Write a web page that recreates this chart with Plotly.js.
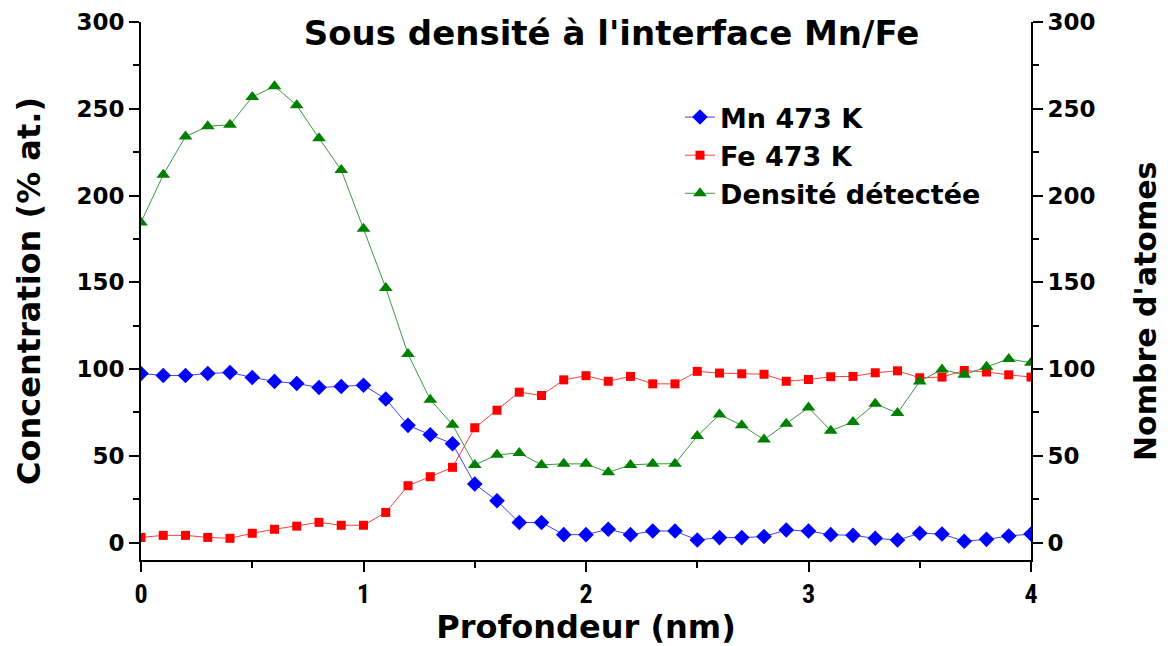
<!DOCTYPE html>
<html>
<head>
<meta charset="utf-8">
<script src="https://cdn.plot.ly/plotly-3.0.1.min.js"></script>
<style>html,body{margin:0;padding:0;background:#fff;}#chart{width:1172px;height:646px;}</style>
</head>
<body>
<div id="chart"></div>
<script>
var depth = [0,0.1,0.2,0.3,0.4,0.5,0.6,0.7,0.8,0.9,1.0,1.1,1.2,1.3,1.4,1.5,1.6,1.7,1.8,1.9,2.0,2.1,2.2,2.3,2.4,2.5,2.6,2.7,2.8,2.9,3.0,3.1,3.2,3.3,3.4,3.5,3.6,3.7,3.8,3.9,4.0];
var mn473 = [97.5,96.3,96.3,97.5,98,95.2,92.9,91.7,89.4,90,90.7,82.8,67.6,62.2,57,33.8,24.1,11.6,11.6,4.6,4.6,7.7,4.6,6.7,6.7,1.5,2.9,2.9,3.5,7.3,6.7,4.6,4.2,2.5,1.5,5.4,5.0,0.8,1.9,3.8,5.0];
var fe473 = [3,4.2,4.2,3,2.5,5.4,7.7,9.5,11.7,10,10,17.4,32.8,38,43.4,66.2,76.3,86.7,84.8,93.8,96.2,93,95.8,91.5,91.5,98.7,97.7,97.3,97,93,94,95.6,95.8,97.9,99,95,95.4,99.2,98.3,96.7,95.4];
var densite = [184.5,212,234,239.9,240.8,256.8,263,252,233,214.7,180.8,146.8,108.7,82.4,68,44.8,50.6,51.7,44.8,45.4,45.4,40.5,44.8,45.4,45.5,61.4,73.8,67.6,59.4,68.5,77.8,64.5,69.5,80,74.7,92.9,99.8,96.7,101.4,105.8,103.7];
var seriesNames = ["Mn 473 K", "Fe 473 K", "Densité détectée"];
var chartTitle = "Sous densité à l'interface Mn/Fe";
var xTitle = "Profondeur (nm)";
var yTitle = "Concentration (% at.)";
var y2Title = "Nombre d'atomes";

var boldWide = {family: "DejaVu Sans, Verdana, sans-serif", weight: "bold", color: "#000"};
function f(size, base) { var o = Object.assign({}, base || boldWide); o.size = size; return o; }
var narrow = {family: "Liberation Sans Narrow, Arial Narrow, Roboto Condensed, sans-serif", weight: "bold", color: "#000"};

var traces = [
  {x: depth, y: mn473, name: seriesNames[0], type: "scatter", mode: "lines+markers",
   line: {color: "#4040ff", width: 1}, marker: {symbol: "diamond", size: 12, color: "#0000ff"}},
  {x: depth, y: fe473, name: seriesNames[1], type: "scatter", mode: "lines+markers",
   line: {color: "#ff4040", width: 1}, marker: {symbol: "square", size: 9, color: "#ff0000"}},
  {x: depth, y: densite, name: seriesNames[2], type: "scatter", mode: "lines+markers", yaxis: "y2",
   line: {color: "#3a9a3a", width: 1}, marker: {symbol: "triangle-up", size: 12, color: "#008000"}}
];

var axisCommon = {
  showline: true, linecolor: "#000", linewidth: 2, mirror: false,
  ticks: "outside", ticklen: 10, tickwidth: 2, tickcolor: "#000",
  showgrid: false, zeroline: false
};

var layout = {
  width: 1172, height: 646,
  paper_bgcolor: "#fff", plot_bgcolor: "#fff",
  margin: {l: 141, r: 141, t: 22, b: 86, pad: 0},
  showlegend: true,
  title: {text: chartTitle, font: f(34), x: 0.5287, xref: "paper", xanchor: "center",
          y: 1 - 33/646, yref: "container", yanchor: "middle"},
  xaxis: Object.assign({}, axisCommon, {
    range: [0, 4], dtick: 1, tick0: 0,
    minor: {dtick: 0.5, ticks: "outside", ticklen: 6, tickwidth: 2, tickcolor: "#000"},
    tickfont: f(26, narrow),
    title: {text: xTitle, font: f(32), standoff: 13}
  }),
  yaxis: Object.assign({}, axisCommon, {
    range: [-10, 300], dtick: 50, tick0: 0,
    minor: {dtick: 25, ticks: "outside", ticklen: 6, tickwidth: 2, tickcolor: "#000"},
    tickfont: f(23),
    title: {text: yTitle, font: f(32), standoff: 26}
  }),
  yaxis2: Object.assign({}, axisCommon, {
    overlaying: "y", side: "right",
    range: [-10, 300], dtick: 50, tick0: 0,
    minor: {dtick: 25, ticks: "outside", ticklen: 6, tickwidth: 2, tickcolor: "#000"},
    tickfont: f(23)
  }),
  annotations: [
    {text: y2Title, font: f(30), textangle: -90, showarrow: false,
     xref: "paper", yref: "paper", x: (1145 - 141) / 890, y: (560 - 312) / 538,
     xanchor: "center", yanchor: "middle"}
  ],
  legend: {x: 0.6056, xanchor: "left", y: 0.868, yanchor: "top",
           bgcolor: "rgba(0,0,0,0)", borderwidth: 0, font: f(27),
           tracegroupgap: 0, itemwidth: 30}
};

Plotly.newPlot("chart", traces, layout, {displayModeBar: false, staticPlot: true});
</script>
</body>
</html>
